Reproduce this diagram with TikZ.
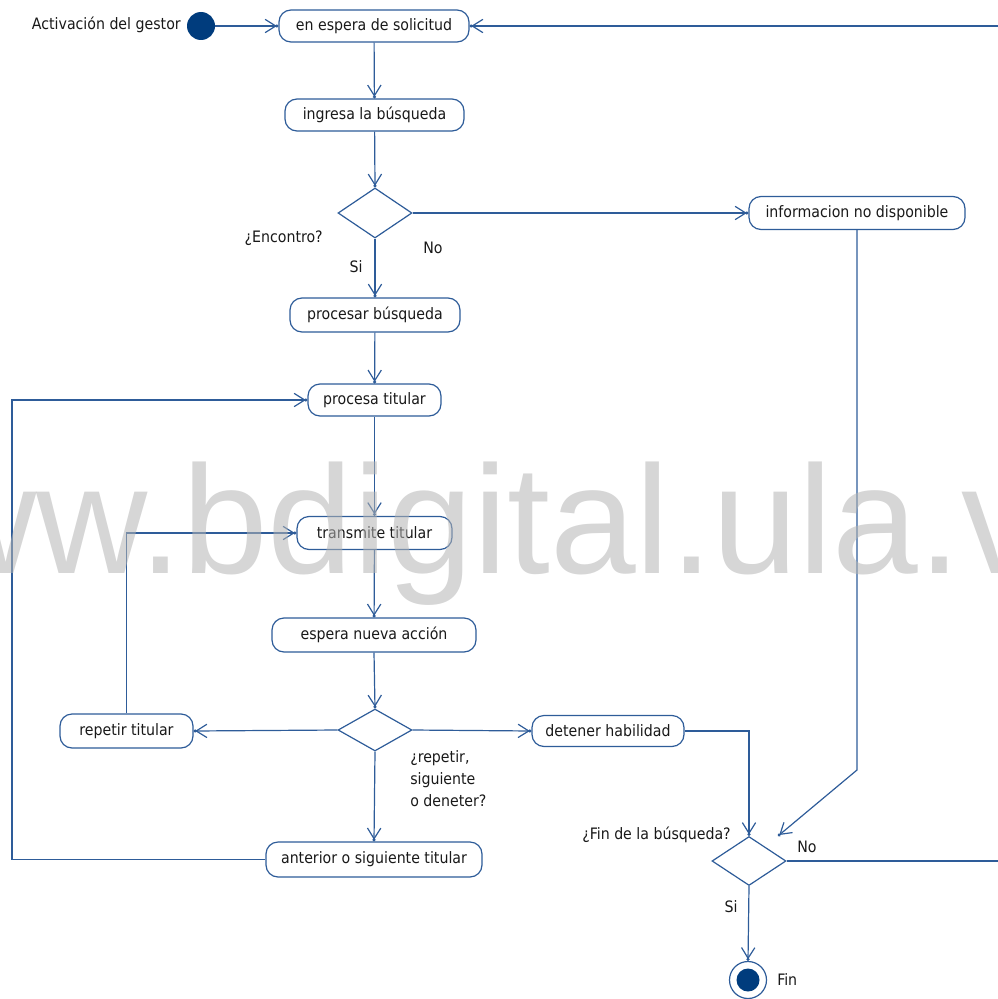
\documentclass[tikz,border=0pt]{standalone}
\usepackage{fontspec}
\setmainfont{DejaVu Sans Condensed}
\newfontfamily\wmfont{Liberation Sans}
\usetikzlibrary{arrows.meta,shapes.geometric}
\definecolor{lb}{RGB}{46,92,153}
\definecolor{nv}{RGB}{0,60,125}
\definecolor{tx}{RGB}{25,25,25}
\definecolor{wm}{RGB}{180,180,180}
\begin{document}
\begin{tikzpicture}[x=0.75pt,y=-0.75pt,
  font=\fontsize{11.8pt}{16.5pt}\selectfont,
  every node/.style={text=tx},
  stbox/.style 2 args={draw=lb, line width=0.9pt, rounded corners=9pt, fill=white, inner sep=0pt, minimum width=#1*0.75pt, minimum height=#2*0.75pt},
  decis/.style 2 args={diamond, draw=lb, line width=0.9pt, fill=white, inner sep=0pt, minimum width=#1*0.75pt, minimum height=#2*0.75pt},
  lbl/.style={inner sep=0pt},
  conn/.style={draw=lb, line width=0.9pt},
  flow/.style={conn, -{Straight Barb[length=8pt,width=10pt,sep=-1.1pt] Circle[length=2.25pt]}}
]
\useasboundingbox (0,0) rectangle (998,999);
\clip (0,0) rectangle (998,999);

% start / end
\node[circle, fill=nv, inner sep=0pt, minimum size=28*0.75pt] (start) at (201,26) {};
\node[circle, draw=lb, line width=0.9pt, fill=white, inner sep=0pt, minimum size=37*0.75pt,
  path picture={\fill[nv] (path picture bounding box.center) circle[radius=11.5];}] (final) at (748,980) {};

% activity states
\node[stbox={190}{32}] (espera) at (374,26) {en espera de solicitud};
\node[stbox={179}{32}] (ingresa) at (374.5,115) {ingresa la búsqueda};
\node[stbox={216}{33}] (info) at (857,213) {informacion no disponible};
\node[stbox={170}{34}] (procesar) at (375,315) {procesar búsqueda};
\node[stbox={133}{32}] (procesa) at (374.5,400) {procesa titular};
\node[stbox={155}{33}] (transmite) at (374.5,533) {transmite titular};
\node[stbox={204}{34}] (esperaN) at (374,635) {espera nueva acción};
\node[stbox={133}{34}] (repetir) at (126.5,731) {repetir titular};
\node[stbox={152}{31}] (detener) at (608,731) {detener habilidad};
\node[stbox={216}{35}] (anterior) at (374,859.5) {anterior o siguiente titular};

% decisions
\node[decis={74}{50}] (dec1) at (375,213) {};
\node[decis={74}{42}] (dec2) at (375,730) {};
\node[decis={74}{49}] (dec3) at (749,861) {};

% free coordinates
\coordinate (lx) at (12,600);
\coordinate (bend1) at (857,770);
\coordinate (dec3tip) at (778,836);
\coordinate (rx) at (1010,400);

% labels
\node[lbl, anchor=east] (lact) at (181,25) {Activación del gestor};
\node[lbl, anchor=east] (lenc) at (323,238) {¿Encontro?};
\node[lbl] (lno1) at (433,248) {No};
\node[lbl] (lsi1) at (356,267) {Si};
\node[lbl, anchor=west, align=left] (lrep) at (410,779) {¿repetir,\\siguiente\\o deneter?};
\node[lbl, anchor=east] (lfin) at (731,835) {¿Fin de la búsqueda?};
\node[lbl] (lno2) at (807,847) {No};
\node[lbl] (lsi2) at (731,907) {Si};
\node[lbl, anchor=west] (lend) at (777,980) {Fin};

% connectors
\draw[flow] (start) -- (espera.west);
\draw[flow] (espera) -- (ingresa);
\draw[flow] (ingresa) -- (dec1.north);
\draw[flow] (dec1.east) -- (info.west);
\draw[flow] (dec1.south) -- (procesar.north);
\draw[flow] (procesar) -- (procesa);
\draw[flow] (procesa) -- (transmite);
\draw[flow] (transmite) -- (esperaN);
\draw[flow] (esperaN.south) -- (dec2.north);
\draw[flow] (dec2.west) -- (repetir.east);
\draw[flow] (dec2.east) -- (detener.west);
\draw[flow] (dec2.south) -- (anterior.north);
\draw[flow] (repetir.north) |- (transmite.west);
\draw[flow] (anterior.west) -| (lx) |- (procesa.west);
\draw[flow] (detener.east) -| (dec3.north);
\draw[flow] (info.south) -- (bend1) -- (dec3tip);
\draw[flow] (dec3.east) -| (rx) |- (espera.east);
\draw[flow] (dec3.south) -- (final.north);

% watermark
\node[anchor=base west, inner sep=0pt, text=wm, opacity=0.55,
  font=\wmfont\fontsize{115.5pt}{120pt}\selectfont] (wmark) at (-186,573) {www.bdigital.ula.ve};
\end{tikzpicture}
\end{document}
